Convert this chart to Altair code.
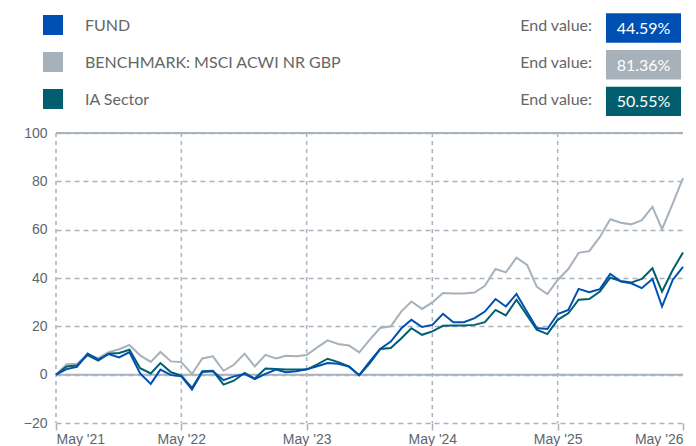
import altair as alt
import pandas as pd

# ---- data ----
months = pd.date_range("2021-05-01", "2026-05-01", freq="MS").strftime("%Y-%m-%d").tolist()

fund = [0, 2.3, 3.2, 8.7, 6.2, 8.5, 7.1, 9.3, 0.5, -3.8,
        2.1, -0.2, -0.7, -6.1, 1.1, 1.4, -2.3, -0.7, 0.3, -1.8,
        0.3, 2.1, 1.0, 1.4, 2.2, 3.5, 4.8, 4.5, 3.4, -0.2,
        5.5, 10.6, 13.7, 19.2, 22.7, 19.7, 20.6, 25.2, 21.7, 21.7,
        23.4, 26.1, 31.3, 28.2, 33.4, 25.9, 19.3, 18.9, 25.1, 26.8,
        35.5, 34.1, 35.4, 41.7, 38.5, 37.8, 35.8, 39.6, 28.2, 39.2,
        44.59]

bench = [0, 4.3, 4.5, 8.4, 6.8, 9.3, 10.5, 12.3, 8.0, 5.3,
         9.4, 5.5, 5.2, 0.3, 6.7, 7.6, 1.6, 4.1, 8.7, 3.4,
         8.2, 6.7, 7.8, 7.6, 8.1, 11.3, 14.2, 12.7, 12.1, 9.2,
         14.5, 19.3, 20.0, 26.2, 30.3, 27.2, 29.9, 33.8, 33.6, 33.6,
         34.0, 36.8, 43.7, 42.3, 48.4, 45.4, 36.4, 33.3, 39.2, 43.7,
         50.4, 51.1, 57.0, 64.3, 62.9, 62.2, 63.9, 69.4, 60.2, 70.8,
         81.36]

ia = [0, 3.4, 3.8, 8.1, 5.8, 8.7, 9.0, 10.3, 2.7, 0.5,
      4.8, 1.0, -0.4, -5.5, 1.4, 1.6, -4.1, -2.5, 0.7, -1.6,
      2.5, 2.3, 2.1, 2.1, 2.1, 4.3, 6.6, 5.2, 3.4, -0.3,
      4.8, 10.6, 11.0, 15.1, 19.2, 16.5, 17.9, 20.2, 20.3, 20.3,
      20.6, 21.7, 26.8, 24.5, 31.0, 24.5, 18.6, 16.8, 22.7, 25.4,
      31.0, 31.3, 34.4, 40.1, 38.8, 38.1, 39.6, 44.0, 34.4, 43.3,
      50.55]

series_names = ["FUND", "BENCHMARK: MSCI ACWI NR GBP", "IA Sector"]
series_colors = ["#0050B4", "#A7B1BA", "#005E6E"]
end_values = ["44.59%", "81.36%", "50.55%"]

may_years = [2021, 2022, 2023, 2024, 2025, 2026]
y_ticks = [-20, 0, 20, 40, 60, 80, 100]

# ---- tables ----
rows = []
for name, vals in zip(series_names, [fund, bench, ia]):
    for d, v in zip(months, vals):
        rows.append({"date": d, "value": v, "series": name})
df = pd.DataFrame(rows)

legend_df = pd.DataFrame({"series": series_names, "endval": end_values})
grid_df = pd.DataFrame({"date": [f"{y}-05-01" for y in may_years[:-1]]})
hline_df = pd.DataFrame({"value": [0, 100]})

GRID = "#A9B3BD"
LABEL = "#5B6670"
AXFONT = "Liberation Sans"
LGFONT = "Lato"

color_scale = alt.Scale(domain=series_names, range=series_colors)
x_scale = alt.Scale(type="utc", nice=False,
                    domain=[alt.DateTime(year=2021, month=5, date=1, utc=True),
                            alt.DateTime(year=2026, month=5, date=1, utc=True)])
y_scale = alt.Scale(domain=[-20, 100], nice=False, zero=False)

x_axis = alt.Axis(values=[alt.DateTime(year=y, month=5, date=1, utc=True) for y in may_years],
                  format="%b '%y", grid=False, domain=False, ticks=True, tickSize=7,
                  tickColor=GRID, tickWidth=1.5, labelFlush=True, labelPadding=2,
                  labelFont=AXFONT, labelFontSize=14, labelColor=LABEL, title=None)
y_axis = alt.Axis(values=y_ticks, grid=True, gridDash=[5, 4], gridColor=GRID, gridWidth=1.5,
                  ticks=False, domain=False, labelPadding=9, labelFont=AXFONT,
                  labelFontSize=14, labelColor=LABEL, title=None)

base_axes = alt.Chart(df).mark_line(opacity=0).encode(
    x=alt.X("date:T", scale=x_scale, axis=x_axis),
    y=alt.Y("value:Q", scale=y_scale, axis=y_axis),
)

vgrid = alt.Chart(grid_df).mark_rule(strokeDash=[4, 4], color=GRID, strokeWidth=1.5).encode(
    x=alt.X("date:T", scale=x_scale)
)
hsolid = alt.Chart(hline_df).mark_rule(color=GRID, strokeWidth=2).encode(
    y=alt.Y("value:Q", scale=y_scale)
)

def line_for(name):
    return alt.Chart(df).transform_filter(alt.datum.series == name).mark_line(strokeWidth=2).encode(
        x=alt.X("date:T", scale=x_scale),
        y=alt.Y("value:Q", scale=y_scale),
        color=alt.Color("series:N", scale=color_scale, legend=None),
    )

lines = [line_for(series_names[1]), line_for(series_names[2]), line_for(series_names[0])]

# legend rows (plot-relative pixel positions)
legend_layers = []
for k, name in enumerate(series_names):
    sq_top = -118 + 37 * k
    center = sq_top + 10
    b_top = -119.7 + 36.7 * k
    b_center = b_top + 14.7
    src = alt.Chart(legend_df).transform_filter(alt.datum.series == name)
    legend_layers.append(src.mark_rect().encode(
        x=alt.value(-13), x2=alt.value(7), y=alt.value(sq_top), y2=alt.value(sq_top + 20),
        color=alt.Color("series:N", scale=color_scale, legend=None)))
    legend_layers.append(src.mark_text(align="left", baseline="middle", font=LGFONT,
                                       fontSize=16, color="#666666").encode(
        x=alt.value(29), y=alt.value(center + 0.5), text="series:N"))
    legend_layers.append(src.mark_text(align="right", baseline="middle", font=LGFONT,
                                       fontSize=16, color="#666666", text="End value:").encode(
        x=alt.value(536), y=alt.value(center + 0.5)))
    legend_layers.append(src.mark_rect().encode(
        x=alt.value(550), x2=alt.value(625), y=alt.value(b_top), y2=alt.value(b_top + 29.4),
        color=alt.Color("series:N", scale=color_scale, legend=None)))
    legend_layers.append(src.mark_text(align="center", baseline="middle", font=LGFONT,
                                       fontSize=16, color="#FFFFFF").encode(
        x=alt.value(587.5), y=alt.value(b_center + 1), text="endval:N"))

chart = alt.layer(base_axes, vgrid, hsolid, *lines, *legend_layers).properties(
    width=627, height=290,
    autosize=alt.AutoSizeParams(type="none"),
    padding={"left": 48, "top": 125, "right": 5, "bottom": 40},
).configure_view(stroke=None)

chart.save("out.html", embed_options={"renderer": "svg", "actions": False})
